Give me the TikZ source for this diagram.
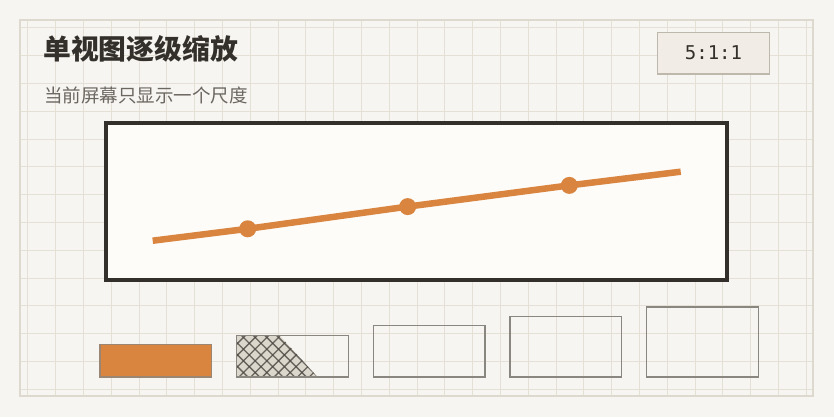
\documentclass[tikz,border=0pt]{standalone}
\usepackage{fontspec}
\newfontfamily\cjk{Noto Sans CJK SC}
\newfontfamily\monofont{DejaVu Sans Mono}
\usetikzlibrary{positioning}

\definecolor{paper}{HTML}{F6F5F1}
\definecolor{gridcol}{HTML}{E4E0D6}
\definecolor{framecol}{HTML}{DDD9CF}
\definecolor{inkdark}{HTML}{33302B}
\definecolor{inkgray}{HTML}{6B6660}
\definecolor{screenfill}{HTML}{FDFCF8}
\definecolor{curveorange}{HTML}{D9843F}
\definecolor{boxline}{HTML}{8A8680}
\definecolor{tagfill}{HTML}{F1EDE6}
\definecolor{tagline}{HTML}{BDB7AC}
\definecolor{hatchfill}{HTML}{DCD7CC}
\definecolor{hatchline}{HTML}{4A4640}

\tikzstyle{screen} = [draw=inkdark, fill=screenfill, line width=4pt,
    rectangle, inner sep=0pt, minimum width=621pt, minimum height=157.3pt]
\tikzstyle{scaletag} = [draw=tagline, fill=tagfill, line width=1.2pt,
    rectangle, minimum width=111.6pt, minimum height=41.7pt,
    font=\monofont\fontsize{19}{19}\selectfont, text=inkdark]
\tikzstyle{levelbox} = [draw=boxline, line width=1.3pt, rectangle,
    inner sep=0pt, minimum width=111.6pt, anchor=south west]
\tikzstyle{curvedot} = [circle, fill=curveorange, inner sep=0pt, minimum size=17pt]
\tikzstyle{hatch} = [hatchline, line width=1.3pt, opacity=0.8]

\begin{document}
\begin{tikzpicture}[x=1pt, y=-1pt]
\useasboundingbox (0,0) rectangle (834,417);
\fill[paper] (0,0) rectangle (834,417);

% background grid
\draw[gridcol, line width=1pt, step=27.8pt] (20,20) grid (813,396);
\draw[framecol, line width=1.5pt] (20,20) rectangle (813,396);

% titles
\node[anchor=base west, inner sep=0pt, text=inkdark,
    font=\cjk\bfseries\fontsize{27.8}{27.8}\selectfont] (title) at (43,59.6) {单视图逐级缩放};
\node[anchor=base west, inner sep=0pt, text=inkgray,
    font=\cjk\fontsize{18.5}{18.5}\selectfont] (subtitle) at (44,102.5) {当前屏幕只显示一个尺度};
\node[scaletag] (ratio) at (713.5,53.2) {5:1:1};

% the single screen
\node[screen] (view) at (416.8,201.7) {};
\coordinate (lineStart) at (152.7,240.7);
\coordinate (lineEnd) at (680.7,171.7);
\node[curvedot] (dotA) at (247.7,228.8) {};
\node[curvedot] (dotB) at (407.7,206.6) {};
\node[curvedot] (dotC) at (569.3,185.4) {};
\draw[curveorange, line width=6.5pt, line join=round]
    (lineStart) -- (dotA.center) -- (dotB.center) -- (dotC.center) -- (lineEnd);

% hatched part of the second level
\begin{scope}
\clip (236,335.8) -- (280,335.8) -- (318,377.6) -- (236,377.6) -- cycle;
\fill[hatchfill] (236,335.8) rectangle (318,377.6);
\foreach \i in {-5,...,8} {
    \draw[hatch] (236+\i*11.7,330) -- (236+\i*11.7+50,380);
    \draw[hatch] (236+\i*11.7,380) -- (236+\i*11.7+50,330);
}
\end{scope}

% zoom levels
\node[levelbox, fill=curveorange, draw=boxline!80!curveorange, minimum height=32.7pt] (levelA) at (99.3,377.6) {};
\node[levelbox, minimum height=41.8pt] (levelB) at (236,377.6) {};
\node[levelbox, minimum height=51.2pt] (levelC) at (372.7,377.6) {};
\node[levelbox, minimum height=60.5pt] (levelD) at (509.3,377.6) {};
\node[levelbox, minimum height=69.9pt] (levelE) at (646,377.6) {};
\end{tikzpicture}
\end{document}
